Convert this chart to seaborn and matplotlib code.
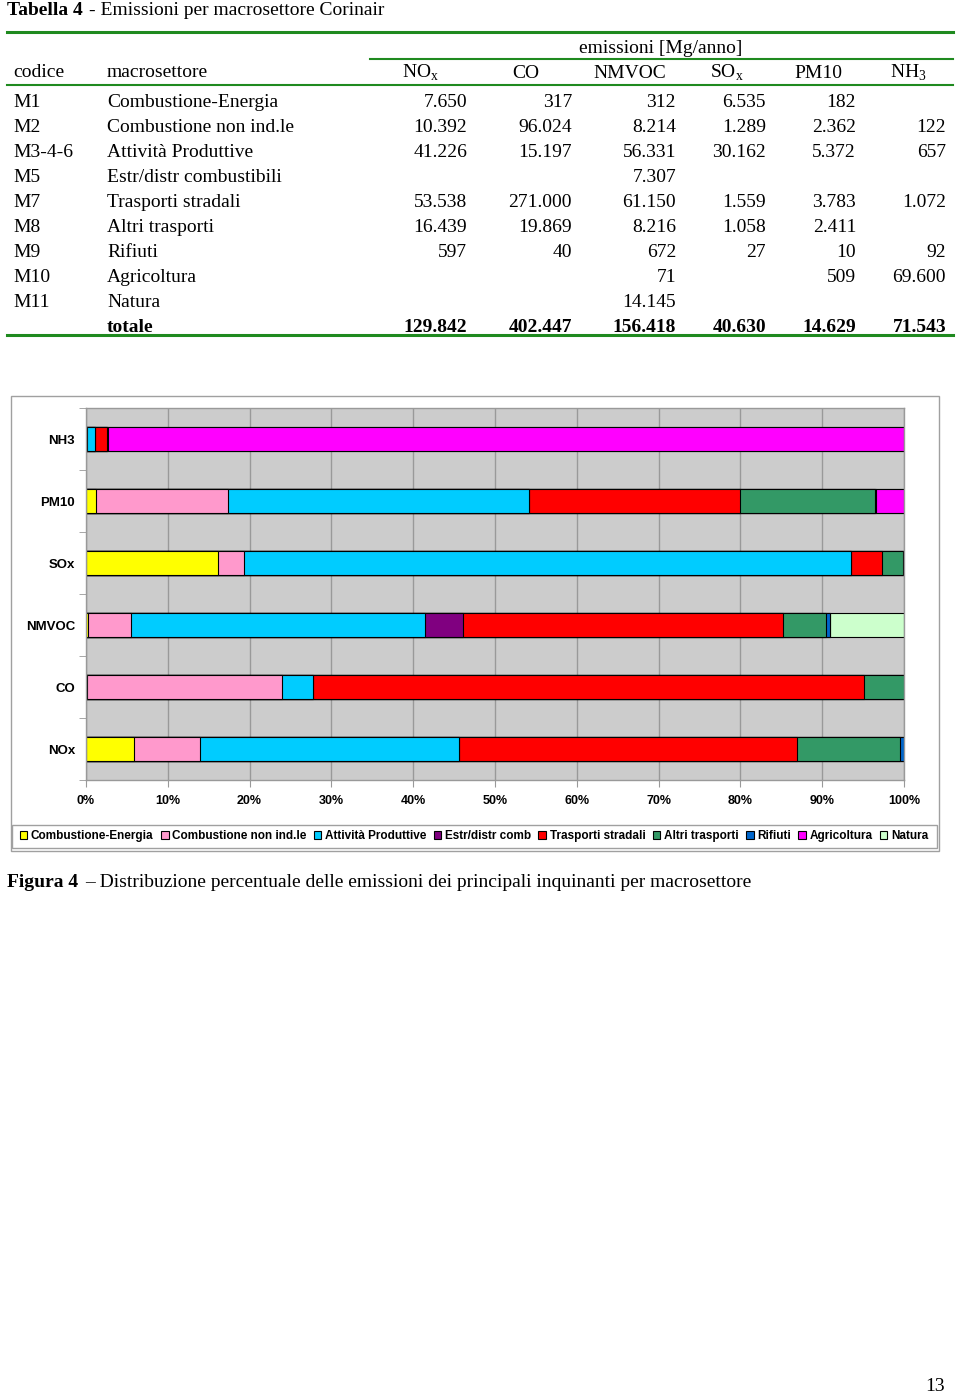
import pandas as pd
import seaborn as sns
import matplotlib.pyplot as plt
from matplotlib.lines import Line2D
from matplotlib.patches import Patch, Rectangle

# dati della Tabella 4 (Mg/anno), None = cella vuota
codes = ['M1', 'M2', 'M3-4-6', 'M5', 'M7', 'M8', 'M9', 'M10', 'M11']
sectors = ['Combustione-Energia', 'Combustione non ind.le', 'Attività Produttive',
           'Estr/distr combustibili', 'Trasporti stradali', 'Altri trasporti',
           'Rifiuti', 'Agricoltura', 'Natura']
legend_labels = ['Combustione-Energia', 'Combustione non ind.le', 'Attività Produttive',
                 'Estr/distr comb', 'Trasporti stradali', 'Altri trasporti',
                 'Rifiuti', 'Agricoltura', 'Natura']
pollutants = ['NOx', 'CO', 'NMVOC', 'SOx', 'PM10', 'NH3']
header_labels = ['NO$_\\mathregular{x}$', 'CO', 'NMVOC', 'SO$_\\mathregular{x}$', 'PM10',
                 'NH$_\\mathregular{3}$']

nox = [7650, 10392, 41226, None, 53538, 16439, 597, None, None]
co = [317, 96024, 15197, None, 271000, 19869, 40, None, None]
nmvoc = [312, 8214, 56331, 7307, 61150, 8216, 672, 71, 14145]
sox = [6535, 1289, 30162, None, 1559, 1058, 27, None, None]
pm10 = [182, 2362, 5372, None, 3783, 2411, 10, 509, None]
nh3 = [None, 122, 657, None, 1072, None, 92, 69600, None]
totals = [129842, 402447, 156418, 40630, 14629, 71543]

sector_colors = ['#FFFF00', '#FF99CC', '#00CCFF', '#800080', '#FF0000',
                 '#339966', '#0066CC', '#FF00FF', '#CCFFCC']
chart_order = ['NH3', 'PM10', 'SOx', 'NMVOC', 'CO', 'NOx']

W, H = 960, 1394
green = '#1F8A1F'
serif = ['Liberation Serif', 'DejaVu Serif']
sans = ['Liberation Sans', 'DejaVu Sans']

plt.rcParams['mathtext.fontset'] = 'custom'
plt.rcParams['mathtext.rm'] = 'Liberation Serif'


def fx(px):
    return px / W


def fy(px):
    return 1 - px / H


def fmt(v):
    return '' if v is None else f"{v:,}".replace(',', '.')


fig = plt.figure(figsize=(W / 100, H / 100), dpi=100)

# ---- tabella ----
fs = 14
fig.text(fx(7), fy(15), 'Tabella 4', fontsize=fs, fontweight='bold', family=serif, va='baseline')
fig.text(fx(89), fy(15), '- Emissioni per macrosettore Corinair', fontsize=fs, family=serif, va='baseline')

for y, x0, x1, lw in [(32, 7, 953, 2.2), (59, 370, 953, 1.5), (85, 7, 953, 1.5), (335, 7, 953, 2.2)]:
    fig.add_artist(Line2D([fx(x0), fx(x1)], [fy(y), fy(y)], color=green, lw=lw))

fig.text(fx(661), fy(53), 'emissioni [Mg/anno]', fontsize=fs, family=serif, ha='center', va='baseline')
fig.text(fx(13), fy(77), 'codice', fontsize=fs, family=serif, va='baseline')
fig.text(fx(107), fy(77), 'macrosettore', fontsize=fs, family=serif, va='baseline')
head_x = [420, 526, 630, 727, 818, 908]
num_x = [467, 572, 676, 766, 856, 946]
for lab, x in zip(header_labels, head_x):
    fig.text(fx(x), fy(78), lab, fontsize=fs, family=serif, ha='center', va='baseline')

cols = [nox, co, nmvoc, sox, pm10, nh3]
for i, (c, s) in enumerate(zip(codes, sectors)):
    yb = 107 + 25 * i
    fig.text(fx(13), fy(yb), c, fontsize=fs, family=serif, va='baseline')
    fig.text(fx(107), fy(yb), s, fontsize=fs, family=serif, va='baseline')
    for col, x in zip(cols, num_x):
        fig.text(fx(x), fy(yb), fmt(col[i]), fontsize=fs, family=serif, ha='right', va='baseline')
yb = 107 + 25 * len(codes)
fig.text(fx(107), fy(yb), 'totale', fontsize=fs, family=serif, fontweight='bold', va='baseline')
for t, x in zip(totals, num_x):
    fig.text(fx(x), fy(yb), fmt(t), fontsize=fs, family=serif, fontweight='bold', ha='right', va='baseline')

# ---- grafico ----
table = pd.DataFrame(dict(zip(pollutants, cols)), index=sectors).astype(float).fillna(0)
share = table / table.sum() * 100
cum = share.cumsum(axis=0)

fig.add_artist(Rectangle((fx(11), fy(851)), fx(939 - 11), (851 - 396) / H,
                         transform=fig.transFigure, fill=False, edgecolor='#A0A0A0', lw=1))
ax = fig.add_axes([fx(86), fy(780), fx(904 - 86), (780 - 408) / H])
ax.set_facecolor('#CCCCCC')

for s, color in reversed(list(zip(sectors, sector_colors))):
    d = pd.DataFrame({'pollutant': pollutants, 'cum': cum.loc[s].values})
    sns.barplot(data=d, x='cum', y='pollutant', order=chart_order, color=color, saturation=1,
                edgecolor='black', linewidth=0.8, width=0.4, errorbar=None, ax=ax)

ax.set_xlim(0, 100)
ax.set_ylim(5.5, -0.5)
ax.set_xticks(range(0, 101, 10))
ax.set_xticklabels([f'{t}%' for t in range(0, 101, 10)], fontsize=9, fontweight='bold', family=sans)
ax.set_yticks(range(len(chart_order)))
ax.set_yticklabels(chart_order, fontsize=9.5, fontweight='bold', family=sans)
ax.set_yticks([i - 0.5 for i in range(len(chart_order) + 1)], minor=True)
ax.tick_params(axis='y', which='major', length=0, pad=8)
ax.tick_params(axis='y', which='minor', length=5, color='#999999')
ax.tick_params(axis='x', length=5, color='#999999', pad=6)
ax.set_xlabel('')
ax.set_ylabel('')
ax.grid(axis='x', color='#999999', lw=1)
ax.set_axisbelow(True)
for sp in ax.spines.values():
    sp.set_color('#999999')
    sp.set_linewidth(1)

fig.add_artist(Rectangle((fx(12), fy(848)), fx(937 - 12), (848 - 825) / H,
                         transform=fig.transFigure, fill=False, edgecolor='#A0A0A0', lw=1))
handles = [Patch(facecolor=c, edgecolor='black', lw=0.8) for c in sector_colors]
fig.legend(handles, legend_labels, loc='center', bbox_to_anchor=(fx(474), fy(836)), ncol=9,
           frameon=False, prop={'family': sans, 'weight': 'bold', 'size': 8.5},
           handlelength=0.65, handleheight=0.65, handletextpad=0.3, columnspacing=0.62,
           borderpad=0)

# ---- didascalia ----
fig.text(fx(7), fy(887), 'Figura 4', fontsize=fs, fontweight='bold', family=serif, va='baseline')
fig.text(fx(85), fy(887), '– Distribuzione percentuale delle emissioni dei principali inquinanti per macrosettore',
         fontsize=fs, family=serif, va='baseline')
fig.text(fx(945), fy(1391), '13', fontsize=fs, family=serif, ha='right', va='baseline')

fig.savefig('out.png', dpi=100)
